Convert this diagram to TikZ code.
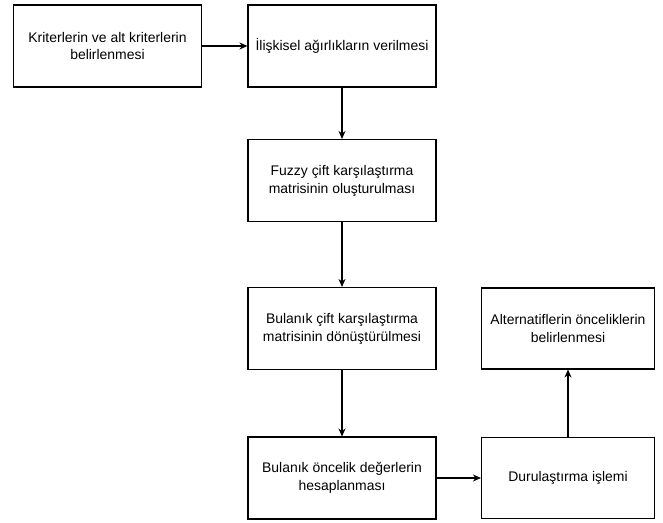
\documentclass[tikz,border=0pt]{standalone}
\usepackage{fontspec}
\setmainfont{Liberation Sans}
\usetikzlibrary{arrows.meta}
\tikzset{
  adim/.style={draw, line width=1.1bp, minimum width=188bp, minimum height=82bp,
    inner sep=0pt, align=center, font=\fontsize{14}{18}\selectfont},
  kisa/.style={adim, minimum width=173bp, minimum height=81bp},
  ok/.style={-{Stealth[length=8bp,width=7bp]}, line width=1.1bp}
}
\begin{document}
\begin{tikzpicture}[x=1bp, y=-1bp]
\useasboundingbox (0,0) rectangle (663,523);
% steps
\node[adim] (krit) at (107.5,46) {Kriterlerin ve alt kriterlerin\\belirlenmesi};
\node[adim] (agir) at (342,46) {İlişkisel ağırlıkların verilmesi};
\node[adim] (fuzzy) at (342,180.5) {Fuzzy çift karşılaştırma\\matrisinin oluşturulması};
\node[adim] (donus) at (342,328.5) {Bulanık çift karşılaştırma\\matrisinin dönüştürülmesi};
\node[adim] (hesap) at (342,478) {Bulanık öncelik değerlerin\\hesaplanması};
\node[kisa] (durul) at (568,478) {Durulaştırma işlemi};
\node[kisa] (alter) at (568,328.5) {Alternatiflerin önceliklerin\\belirlenmesi};
% arrows
\draw[ok] (krit) -- (agir);
\draw[ok] (agir) -- (fuzzy);
\draw[ok] (fuzzy) -- (donus);
\draw[ok] (donus) -- (hesap);
\draw[ok] (hesap) -- (durul);
\draw[ok] (durul) -- (alter);
\end{tikzpicture}
\end{document}
